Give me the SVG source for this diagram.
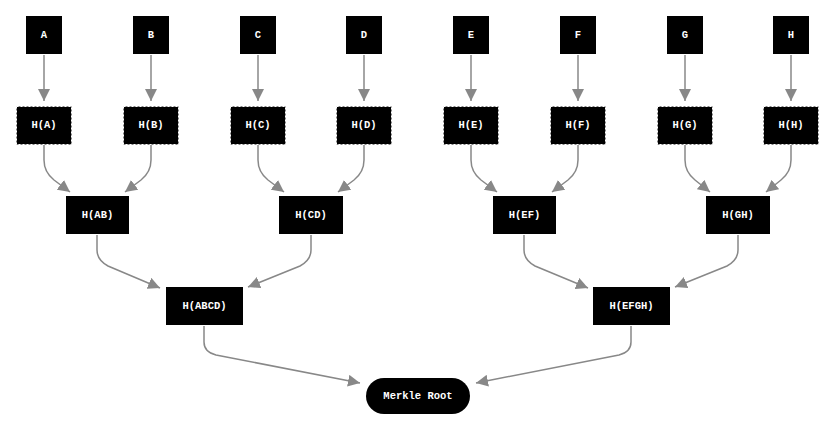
<svg xmlns="http://www.w3.org/2000/svg" width="828" height="424" viewBox="0 0 828 424">
<style>
.n{fill:#000}
.h{fill:#000;stroke:#fff;stroke-width:1;stroke-dasharray:2 2}
.t{fill:#fff;font-family:"Liberation Mono","Courier New",monospace;font-weight:bold;font-size:10.5px;text-anchor:middle;dominant-baseline:central}
.e{fill:none;stroke:#888;stroke-width:1.5;marker-end:url(#ar)}
</style>
<defs>
<marker id="ar" viewBox="0 0 10 10" refX="10" refY="5" markerWidth="12" markerHeight="12" markerUnits="userSpaceOnUse" orient="auto">
<path d="M0,0 L10,5 L0,10 z" fill="#888"/>
</marker>
</defs>
<rect width="828" height="424" fill="#fff"/>
<g id="edges">
<path class="e" d="M44,55 V101"/>
<path class="e" d="M151,55 V101"/>
<path class="e" d="M258,55 V101"/>
<path class="e" d="M364,55 V101"/>
<path class="e" d="M471,55 V101"/>
<path class="e" d="M578,55 V101"/>
<path class="e" d="M685,55 V101"/>
<path class="e" d="M791,55 V101"/>
<path class="e" d="M44,145 V160 Q44,172 54,180 L70,192"/>
<path class="e" d="M151,145 V160 Q151,172 141,180 L125,192"/>
<path class="e" d="M258,145 V160 Q258,172 268,180 L284,192"/>
<path class="e" d="M364,145 V160 Q364,172 354,180 L338,192"/>
<path class="e" d="M471,145 V160 Q471,172 481,180 L497,192"/>
<path class="e" d="M578,145 V160 Q578,172 568,180 L552,192"/>
<path class="e" d="M685,145 V160 Q685,172 695,180 L710,192"/>
<path class="e" d="M791,145 V160 Q791,172 781,180 L766,192"/>
<path class="e" d="M97,235 V250 Q97,260 108,266 L160,288"/>
<path class="e" d="M311,235 V250 Q311,260 300,266 L248,287"/>
<path class="e" d="M524,235 V250 Q524,260 535,266 L588,288"/>
<path class="e" d="M738,235 V250 Q738,260 727,266 L675,287"/>
<path class="e" d="M204,326 V342 Q204,352 216,355 L360,383"/>
<path class="e" d="M631,326 V342 Q631,352 619,355 L476,383"/>
</g>
<g id="A"><rect class="n" x="26" y="16" width="36" height="38"/><text class="t" x="44" y="35">A</text></g>
<g id="B"><rect class="n" x="133" y="16" width="36" height="38"/><text class="t" x="151" y="35">B</text></g>
<g id="C"><rect class="n" x="240" y="16" width="36" height="38"/><text class="t" x="258" y="35">C</text></g>
<g id="D"><rect class="n" x="346" y="16" width="36" height="38"/><text class="t" x="364" y="35">D</text></g>
<g id="E"><rect class="n" x="453" y="16" width="36" height="38"/><text class="t" x="471" y="35">E</text></g>
<g id="F"><rect class="n" x="560" y="16" width="36" height="38"/><text class="t" x="578" y="35">F</text></g>
<g id="G"><rect class="n" x="667" y="16" width="36" height="38"/><text class="t" x="685" y="35">G</text></g>
<g id="H"><rect class="n" x="773" y="16" width="36" height="38"/><text class="t" x="791" y="35">H</text></g>
<g id="HA"><rect class="h" x="16.5" y="106.5" width="55" height="38"/><text class="t" x="44" y="125">H(A)</text></g>
<g id="HB"><rect class="h" x="123.5" y="106.5" width="55" height="38"/><text class="t" x="151" y="125">H(B)</text></g>
<g id="HC"><rect class="h" x="230.5" y="106.5" width="55" height="38"/><text class="t" x="258" y="125">H(C)</text></g>
<g id="HD"><rect class="h" x="336.5" y="106.5" width="55" height="38"/><text class="t" x="364" y="125">H(D)</text></g>
<g id="HE"><rect class="h" x="443.5" y="106.5" width="55" height="38"/><text class="t" x="471" y="125">H(E)</text></g>
<g id="HF"><rect class="h" x="550.5" y="106.5" width="55" height="38"/><text class="t" x="578" y="125">H(F)</text></g>
<g id="HG"><rect class="h" x="657.5" y="106.5" width="55" height="38"/><text class="t" x="685" y="125">H(G)</text></g>
<g id="HH"><rect class="h" x="763.5" y="106.5" width="55" height="38"/><text class="t" x="791" y="125">H(H)</text></g>
<g id="HAB"><rect class="n" x="66" y="196" width="63" height="38"/><text class="t" x="97.5" y="215">H(AB)</text></g>
<g id="HCD"><rect class="n" x="279" y="196" width="64" height="38"/><text class="t" x="311" y="215">H(CD)</text></g>
<g id="HEF"><rect class="n" x="493" y="196" width="63" height="38"/><text class="t" x="524.5" y="215">H(EF)</text></g>
<g id="HGH"><rect class="n" x="706" y="196" width="64" height="38"/><text class="t" x="738" y="215">H(GH)</text></g>
<g id="HABCD"><rect class="n" x="166" y="287" width="77" height="38"/><text class="t" x="204.5" y="306">H(ABCD)</text></g>
<g id="HEFGH"><rect class="n" x="593" y="287" width="77" height="38"/><text class="t" x="631.5" y="306">H(EFGH)</text></g>
<g id="root"><rect class="n" x="366" y="378" width="104" height="36" rx="18" ry="18"/><text class="t" x="418" y="396">Merkle Root</text></g>
</svg>
